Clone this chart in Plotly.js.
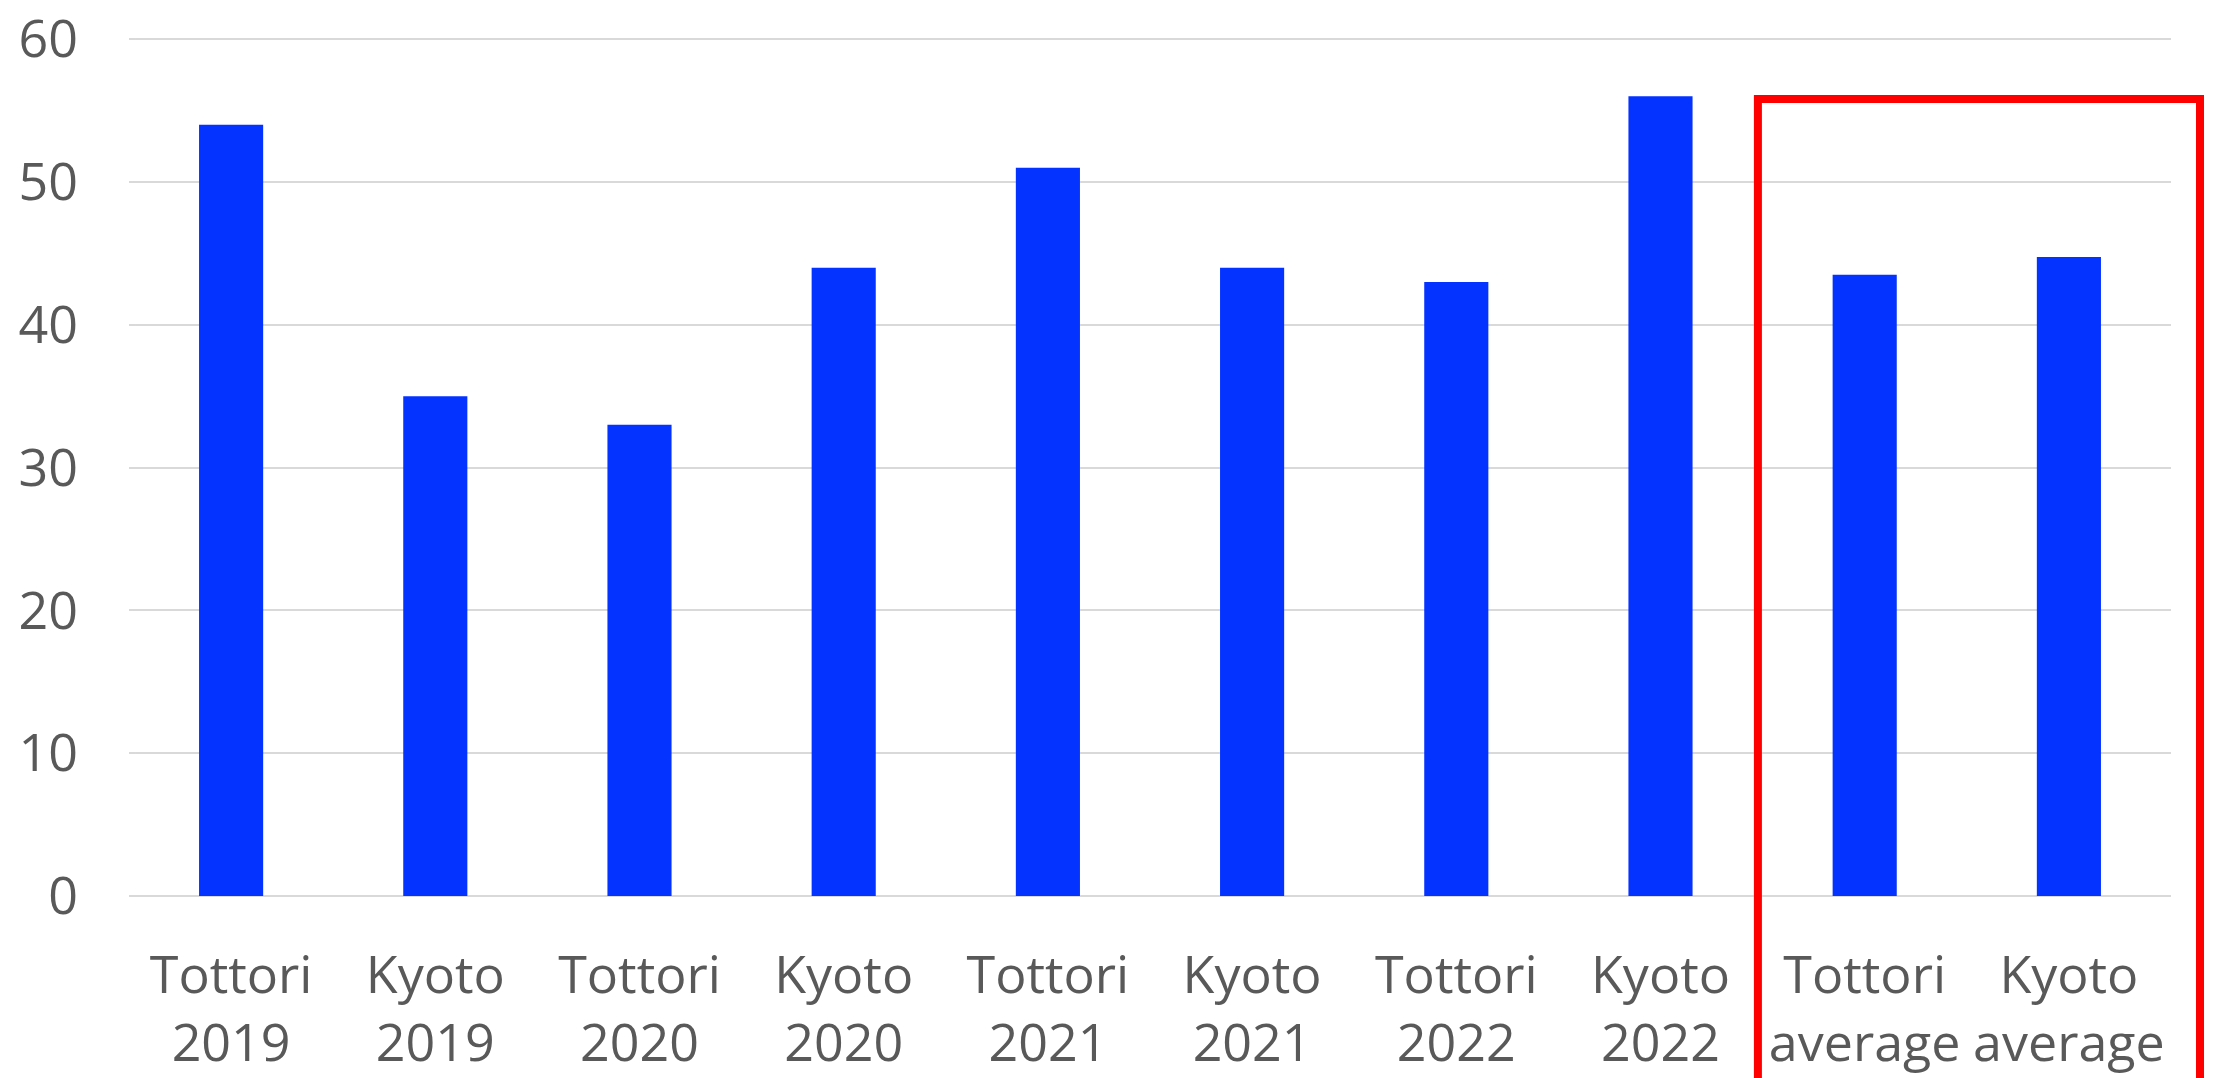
<!DOCTYPE html>
<html>
<head>
<meta charset="utf-8">
<script src="https://cdn.plot.ly/plotly-3.0.1.min.js"></script>
<style>
  html, body { margin: 0; padding: 0; background: #ffffff; }
  #chart { width: 2219px; height: 1078px; }
</style>
</head>
<body>
<div id="chart"></div>
<script>
// Data
const categories = [
  "Tottori<br>2019", "Kyoto<br>2019",
  "Tottori<br>2020", "Kyoto<br>2020",
  "Tottori<br>2021", "Kyoto<br>2021",
  "Tottori<br>2022", "Kyoto<br>2022",
  "Tottori<br>average", "Kyoto<br>average"
];
const values = [54, 35, 33, 44, 51, 44, 43, 56, 43.5, 44.75];
const yTicks = [0, 10, 20, 30, 40, 50, 60];

const FONT = "'Open Sans', 'Noto Sans', sans-serif";
const TEXT_COLOR = "#595959";

const trace = {
  type: "bar",
  x: categories,
  y: values,
  marker: { color: "#0433ff", line: { width: 0 } },
  hoverinfo: "x+y"
};

const layout = {
  width: 2219,
  height: 1078,
  margin: { l: 129, r: 48, t: 38, b: 182, pad: 0 },
  paper_bgcolor: "#ffffff",
  plot_bgcolor: "#ffffff",
  bargap: 0.686,
  showlegend: false,
  font: { family: FONT, color: TEXT_COLOR, size: 52 },
  xaxis: {
    type: "category",
    showgrid: false,
    showline: false,
    zeroline: false,
    ticks: "",
    tickfont: { family: FONT, color: TEXT_COLOR, size: 52 },
    ticklabelstandoff: 44,
    ticklabeloverflow: "allow",
    fixedrange: true
  },
  yaxis: {
    range: [0, 60.08],
    tickvals: yTicks,
    ticktext: yTicks.map(String),
    showgrid: true,
    gridcolor: "#d9d9d9",
    gridwidth: 2,
    zeroline: true,
    zerolinecolor: "#d9d9d9",
    zerolinewidth: 2,
    showline: false,
    ticks: "",
    tickfont: { family: FONT, color: TEXT_COLOR, size: 52 },
    ticklabelstandoff: 50,
    ticklabeloverflow: "allow",
    fixedrange: true
  },
  shapes: [
    {
      type: "path",
      xref: "paper",
      yref: "paper",
      path: "M 0.7977 -0.4 L 0.7977 0.9289 L 1.0142 0.9289 L 1.0142 -0.4",
      line: { color: "#ff0000", width: 8 },
      layer: "above"
    }
  ]
};

Plotly.newPlot("chart", [trace], layout, { displayModeBar: false, staticPlot: true });
</script>
</body>
</html>
